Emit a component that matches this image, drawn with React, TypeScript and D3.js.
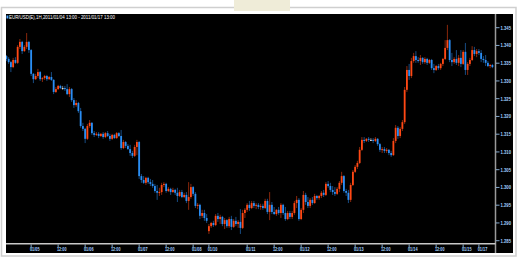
import React from "react";
import * as d3 from "d3";

const title = "EUR/USD(E),1H,2011/01/04 13:00 - 2011/01/17 13:00";

const opens = [
  1.3370, 1.3362, 1.3353, 1.3339, 1.3359, 1.3351, 1.3396, 1.3410, 1.3384, 1.3396,
  1.3410, 1.3387, 1.3320, 1.3305, 1.3314, 1.3325, 1.3305, 1.3308, 1.3314, 1.3305,
  1.3311, 1.3303, 1.3269, 1.3277, 1.3286, 1.3280, 1.3280, 1.3277, 1.3263, 1.3277,
  1.3246, 1.3232, 1.3238, 1.3215, 1.3173, 1.3165, 1.3137, 1.3173, 1.3182, 1.3153,
  1.3148, 1.3151, 1.3145, 1.3151, 1.3142, 1.3153, 1.3145, 1.3137, 1.3148, 1.3139,
  1.3153, 1.3145, 1.3111, 1.3128, 1.3117, 1.3108, 1.3097, 1.3089, 1.3114, 1.3128,
  1.3032, 1.3021, 1.3013, 1.3027, 1.3015, 1.3010, 1.3004, 1.2990, 1.2985, 1.2987,
  1.3007, 1.3010, 1.2990, 1.2996, 1.2987, 1.2993, 1.2985, 1.2976, 1.2987, 1.2973,
  1.2979, 1.2962, 1.2973, 1.3001, 1.2982, 1.2948, 1.2951, 1.2920, 1.2928, 1.2914,
  1.2877, 1.2891, 1.2900, 1.2894, 1.2920, 1.2911, 1.2917, 1.2897, 1.2908, 1.2891,
  1.2911, 1.2889, 1.2906, 1.2897, 1.2903, 1.2886, 1.2928, 1.2937, 1.2951, 1.2942,
  1.2956, 1.2948, 1.2951, 1.2945, 1.2948, 1.2942, 1.2962, 1.2931, 1.2951, 1.2931,
  1.2925, 1.2937, 1.2928, 1.2951, 1.2928, 1.2911, 1.2928, 1.2917, 1.2928, 1.2956,
  1.2965, 1.2911, 1.2937, 1.2979, 1.2959, 1.2948, 1.2965, 1.2956, 1.2976, 1.2970,
  1.2976, 1.2985, 1.2979, 1.3010, 1.3004, 1.2993, 1.2987, 1.2982, 1.2996, 1.3013,
  1.3032, 1.2990, 1.2985, 1.2965, 1.3007, 1.3044, 1.3058, 1.3069, 1.3106, 1.3134,
  1.3131, 1.3137, 1.3134, 1.3134, 1.3131, 1.3137, 1.3122, 1.3106, 1.3108, 1.3103,
  1.3106, 1.3097, 1.3091, 1.3131, 1.3168, 1.3145, 1.3165, 1.3184, 1.3275, 1.3331,
  1.3314, 1.3356, 1.3370, 1.3359, 1.3356, 1.3365, 1.3353, 1.3362, 1.3351, 1.3359,
  1.3336, 1.3331, 1.3342, 1.3336, 1.3348, 1.3362, 1.3393, 1.3415, 1.3359, 1.3353,
  1.3362, 1.3351, 1.3365, 1.3348, 1.3382, 1.3331, 1.3348, 1.3359, 1.3387, 1.3376,
  1.3384, 1.3379, 1.3362, 1.3359, 1.3351, 1.3342, 1.3345,
];

const highs = [
  1.3373, 1.3367, 1.3356, 1.3365, 1.3367, 1.3401, 1.3418, 1.3413, 1.3401, 1.3435,
  1.3413, 1.3390, 1.3322, 1.3320, 1.3334, 1.3328, 1.3311, 1.3317, 1.3317, 1.3314,
  1.3325, 1.3305, 1.3283, 1.3289, 1.3289, 1.3286, 1.3286, 1.3291, 1.3283, 1.3280,
  1.3252, 1.3246, 1.3241, 1.3224, 1.3182, 1.3168, 1.3179, 1.3190, 1.3184, 1.3159,
  1.3156, 1.3156, 1.3153, 1.3156, 1.3156, 1.3159, 1.3151, 1.3151, 1.3151, 1.3156,
  1.3156, 1.3162, 1.3134, 1.3131, 1.3122, 1.3120, 1.3103, 1.3120, 1.3134, 1.3131,
  1.3038, 1.3032, 1.3030, 1.3030, 1.3024, 1.3021, 1.3010, 1.3007, 1.2999, 1.3013,
  1.3015, 1.3013, 1.3001, 1.2999, 1.2999, 1.2996, 1.2999, 1.2993, 1.2993, 1.2985,
  1.2987, 1.3015, 1.3010, 1.3004, 1.2987, 1.2956, 1.2954, 1.2937, 1.2937, 1.2925,
  1.2897, 1.2903, 1.2906, 1.2925, 1.2928, 1.2923, 1.2920, 1.2914, 1.2911, 1.2917,
  1.2920, 1.2911, 1.2917, 1.2908, 1.2939, 1.2937, 1.2942, 1.2956, 1.2962, 1.2962,
  1.2962, 1.2956, 1.2956, 1.2954, 1.2954, 1.2968, 1.2968, 1.2987, 1.2959, 1.2945,
  1.2939, 1.2945, 1.2956, 1.2954, 1.2945, 1.2934, 1.2934, 1.2934, 1.2962, 1.2976,
  1.2970, 1.2942, 1.2990, 1.2985, 1.2973, 1.2970, 1.2973, 1.2982, 1.2979, 1.2979,
  1.2990, 1.2993, 1.3015, 1.3018, 1.3013, 1.3004, 1.3001, 1.3001, 1.3018, 1.3044,
  1.3035, 1.2996, 1.2993, 1.3013, 1.3049, 1.3063, 1.3075, 1.3114, 1.3142, 1.3142,
  1.3139, 1.3142, 1.3139, 1.3139, 1.3142, 1.3139, 1.3125, 1.3114, 1.3114, 1.3111,
  1.3108, 1.3103, 1.3139, 1.3176, 1.3173, 1.3170, 1.3190, 1.3283, 1.3342, 1.3348,
  1.3365, 1.3379, 1.3384, 1.3367, 1.3373, 1.3367, 1.3367, 1.3365, 1.3362, 1.3362,
  1.3348, 1.3345, 1.3348, 1.3351, 1.3365, 1.3415, 1.3458, 1.3418, 1.3379, 1.3367,
  1.3387, 1.3373, 1.3387, 1.3387, 1.3407, 1.3353, 1.3365, 1.3398, 1.3396, 1.3390,
  1.3390, 1.3387, 1.3370, 1.3373, 1.3356, 1.3348, 1.3348,
];

const lows = [
  1.3356, 1.3348, 1.3325, 1.3336, 1.3348, 1.3348, 1.3390, 1.3376, 1.3382, 1.3390,
  1.3379, 1.3314, 1.3294, 1.3303, 1.3308, 1.3300, 1.3297, 1.3303, 1.3300, 1.3303,
  1.3300, 1.3263, 1.3266, 1.3275, 1.3277, 1.3275, 1.3272, 1.3260, 1.3255, 1.3241,
  1.3224, 1.3227, 1.3210, 1.3168, 1.3159, 1.3125, 1.3134, 1.3168, 1.3148, 1.3142,
  1.3145, 1.3139, 1.3142, 1.3137, 1.3139, 1.3142, 1.3131, 1.3134, 1.3137, 1.3137,
  1.3142, 1.3106, 1.3108, 1.3111, 1.3106, 1.3089, 1.3083, 1.3086, 1.3091, 1.3024,
  1.3013, 1.3010, 1.3007, 1.3010, 1.3004, 1.2999, 1.2985, 1.2965, 1.2976, 1.2979,
  1.3001, 1.2985, 1.2987, 1.2979, 1.2985, 1.2979, 1.2959, 1.2973, 1.2970, 1.2970,
  1.2956, 1.2937, 1.2968, 1.2976, 1.2942, 1.2939, 1.2911, 1.2914, 1.2906, 1.2900,
  1.2869, 1.2886, 1.2889, 1.2891, 1.2903, 1.2897, 1.2891, 1.2883, 1.2886, 1.2886,
  1.2880, 1.2886, 1.2891, 1.2886, 1.2869, 1.2883, 1.2914, 1.2931, 1.2934, 1.2939,
  1.2942, 1.2939, 1.2939, 1.2937, 1.2937, 1.2939, 1.2925, 1.2908, 1.2925, 1.2923,
  1.2920, 1.2923, 1.2914, 1.2923, 1.2906, 1.2908, 1.2911, 1.2911, 1.2923, 1.2942,
  1.2906, 1.2908, 1.2928, 1.2951, 1.2942, 1.2942, 1.2951, 1.2954, 1.2965, 1.2965,
  1.2970, 1.2973, 1.2976, 1.2999, 1.2987, 1.2979, 1.2976, 1.2979, 1.2987, 1.3007,
  1.2985, 1.2976, 1.2956, 1.2959, 1.3004, 1.3041, 1.3052, 1.3066, 1.3103, 1.3125,
  1.3128, 1.3128, 1.3131, 1.3125, 1.3128, 1.3117, 1.3100, 1.3097, 1.3097, 1.3097,
  1.3091, 1.3086, 1.3089, 1.3125, 1.3137, 1.3139, 1.3159, 1.3179, 1.3269, 1.3303,
  1.3308, 1.3351, 1.3351, 1.3351, 1.3345, 1.3348, 1.3348, 1.3345, 1.3348, 1.3331,
  1.3322, 1.3328, 1.3331, 1.3331, 1.3342, 1.3359, 1.3387, 1.3353, 1.3342, 1.3348,
  1.3345, 1.3342, 1.3339, 1.3345, 1.3317, 1.3317, 1.3342, 1.3356, 1.3370, 1.3367,
  1.3373, 1.3353, 1.3351, 1.3342, 1.3339, 1.3336, 1.3336,
];

const closes = [
  1.3362, 1.3353, 1.3339, 1.3359, 1.3351, 1.3396, 1.3410, 1.3384, 1.3396, 1.3410,
  1.3387, 1.3320, 1.3305, 1.3314, 1.3325, 1.3305, 1.3308, 1.3314, 1.3305, 1.3311,
  1.3303, 1.3269, 1.3277, 1.3286, 1.3280, 1.3280, 1.3277, 1.3263, 1.3277, 1.3246,
  1.3232, 1.3238, 1.3215, 1.3173, 1.3165, 1.3137, 1.3173, 1.3182, 1.3153, 1.3148,
  1.3151, 1.3145, 1.3151, 1.3142, 1.3153, 1.3145, 1.3137, 1.3148, 1.3139, 1.3153,
  1.3145, 1.3111, 1.3128, 1.3117, 1.3108, 1.3097, 1.3089, 1.3114, 1.3128, 1.3032,
  1.3021, 1.3013, 1.3027, 1.3015, 1.3010, 1.3004, 1.2990, 1.2985, 1.2987, 1.3007,
  1.3010, 1.2990, 1.2996, 1.2987, 1.2993, 1.2985, 1.2976, 1.2987, 1.2973, 1.2979,
  1.2962, 1.2973, 1.3001, 1.2982, 1.2948, 1.2951, 1.2920, 1.2928, 1.2914, 1.2906,
  1.2891, 1.2900, 1.2894, 1.2920, 1.2911, 1.2917, 1.2897, 1.2908, 1.2891, 1.2911,
  1.2889, 1.2906, 1.2897, 1.2903, 1.2886, 1.2928, 1.2937, 1.2951, 1.2942, 1.2956,
  1.2948, 1.2951, 1.2945, 1.2948, 1.2942, 1.2962, 1.2931, 1.2951, 1.2931, 1.2925,
  1.2937, 1.2928, 1.2951, 1.2928, 1.2911, 1.2928, 1.2917, 1.2928, 1.2956, 1.2965,
  1.2911, 1.2937, 1.2979, 1.2959, 1.2948, 1.2965, 1.2956, 1.2976, 1.2970, 1.2976,
  1.2985, 1.2979, 1.3010, 1.3004, 1.2993, 1.2987, 1.2982, 1.2996, 1.3013, 1.3032,
  1.2990, 1.2985, 1.2965, 1.3007, 1.3044, 1.3058, 1.3069, 1.3106, 1.3134, 1.3131,
  1.3137, 1.3134, 1.3134, 1.3131, 1.3137, 1.3122, 1.3106, 1.3108, 1.3103, 1.3106,
  1.3097, 1.3091, 1.3131, 1.3168, 1.3145, 1.3165, 1.3184, 1.3275, 1.3331, 1.3314,
  1.3356, 1.3370, 1.3359, 1.3356, 1.3365, 1.3353, 1.3362, 1.3351, 1.3359, 1.3336,
  1.3331, 1.3342, 1.3336, 1.3348, 1.3362, 1.3393, 1.3415, 1.3359, 1.3353, 1.3362,
  1.3351, 1.3365, 1.3348, 1.3382, 1.3331, 1.3348, 1.3359, 1.3387, 1.3376, 1.3384,
  1.3379, 1.3362, 1.3359, 1.3351, 1.3342, 1.3345, 1.3339,
];

const yTicks = [1.285, 1.29, 1.295, 1.3, 1.305, 1.31, 1.315, 1.32, 1.325, 1.33, 1.335, 1.34, 1.345];

const xTickBars = [11, 23, 35, 47, 59, 71, 83, 90, 107, 119, 131, 143, 155, 167, 179, 191, 203, 210];
const xTickLabels = [
  "01/05", "12:00", "01/06", "12:00", "01/07", "12:00", "01/08", "01/10", "01/11",
  "12:00", "01/12", "12:00", "01/13", "12:00", "01/14", "12:00", "01/15", "01/17",
];

const UP = "#ff4814";
const DOWN = "#2a8ef4";
const DOJI = "#e6e6e6";
const LABEL = "#a4d2ff";
const FONT = "'Liberation Sans', Arial, sans-serif";

export default function App() {
  const W = 520;
  const H = 259;
  const plot = { left: 6, top: 14, right: 495, bottom: 243.5 };
  const n = Math.min(opens.length, highs.length, lows.length, closes.length);

  const x = d3.scaleLinear().domain([0, 216]).range([6.4, 492.4]);
  const y = d3.scaleLinear().domain([1.285, 1.345]).range([240.7, 27.7]);
  const fmt = d3.format(".3f");

  const candles = d3.range(n).map((i) => {
    const o = opens[i];
    const c = closes[i];
    const color = c > o ? UP : c < o ? DOWN : DOJI;
    const top = y(Math.max(o, c));
    const bot = y(Math.min(o, c));
    return { i, cx: x(i), hi: y(highs[i]), lo: y(lows[i]), top, h: Math.max(1, bot - top), color };
  });

  return (
    <svg
      width={W}
      height={H}
      viewBox={`0 0 ${W} ${H}`}
      style={{ position: "absolute", left: 0, top: 0, display: "block" }}
    >
      <rect x={0} y={0} width={W} height={H} fill="#ffffff" />
      <rect x={1.5} y={7.5} width={514.5} height={248.5} fill="#ffffff" stroke="#cfcfcf" strokeWidth={1.5} />
      <rect x={234} y={0} width={56} height={11} fill="#efecd8" />
      <rect x={6} y={14} width={507} height={239} fill="#000000" />

      <defs>
        <clipPath id="plotClip">
          <rect x={plot.left} y={plot.top} width={plot.right - plot.left} height={plot.bottom - plot.top} />
        </clipPath>
      </defs>

      <g clipPath="url(#plotClip)">
        {candles.map((d) => (
          <g key={d.i}>
            <line
              x1={d.cx}
              x2={d.cx}
              y1={d.hi}
              y2={d.lo}
              stroke={d.color}
              strokeOpacity={0.6}
              strokeWidth={0.9}
            />
            <rect x={d.cx - 0.9} y={d.top} width={1.8} height={d.h} fill={d.color} />
          </g>
        ))}
      </g>

      {/* axes */}
      <line x1={495.5} x2={495.5} y1={14} y2={253} stroke="#9a9a9a" strokeWidth={1.5} />
      <line x1={6} x2={495.5} y1={243.8} y2={243.8} stroke="#c8c8c8" strokeWidth={1.4} />

      {yTicks.map((t) => (
        <g key={t}>
          <line x1={496} x2={499.5} y1={y(t)} y2={y(t)} stroke={LABEL} strokeWidth={0.8} />
          <text
            x={500.5}
            y={y(t)}
            dy="0.35em"
            fill={LABEL}
            fontSize={5.2}
            fontFamily={FONT}
            fontWeight="bold"
            textLength={10.5}
            lengthAdjust="spacingAndGlyphs"
          >
            {fmt(t)}
          </text>
        </g>
      ))}

      {xTickBars.map((b, k) => (
        <g key={k}>
          <line x1={x(b)} x2={x(b)} y1={244.5} y2={247.5} stroke={LABEL} strokeWidth={0.8} />
          <text
            x={x(b) - 1.2}
            y={251}
            fill={LABEL}
            fontSize={4.8}
            fontFamily={FONT}
            fontWeight="bold"
            textLength={9.6}
            lengthAdjust="spacingAndGlyphs"
          >
            {xTickLabels[k]}
          </text>
        </g>
      ))}

      <rect x={6.5} y={15.5} width={1.8} height={3} fill="#4fa8ff" />
      <text
        x={9}
        y={19}
        fill="#ffffff"
        fontSize={4.6}
        fontFamily={FONT}
        textLength={106}
        lengthAdjust="spacingAndGlyphs"
      >
        {title}
      </text>
    </svg>
  );
}
